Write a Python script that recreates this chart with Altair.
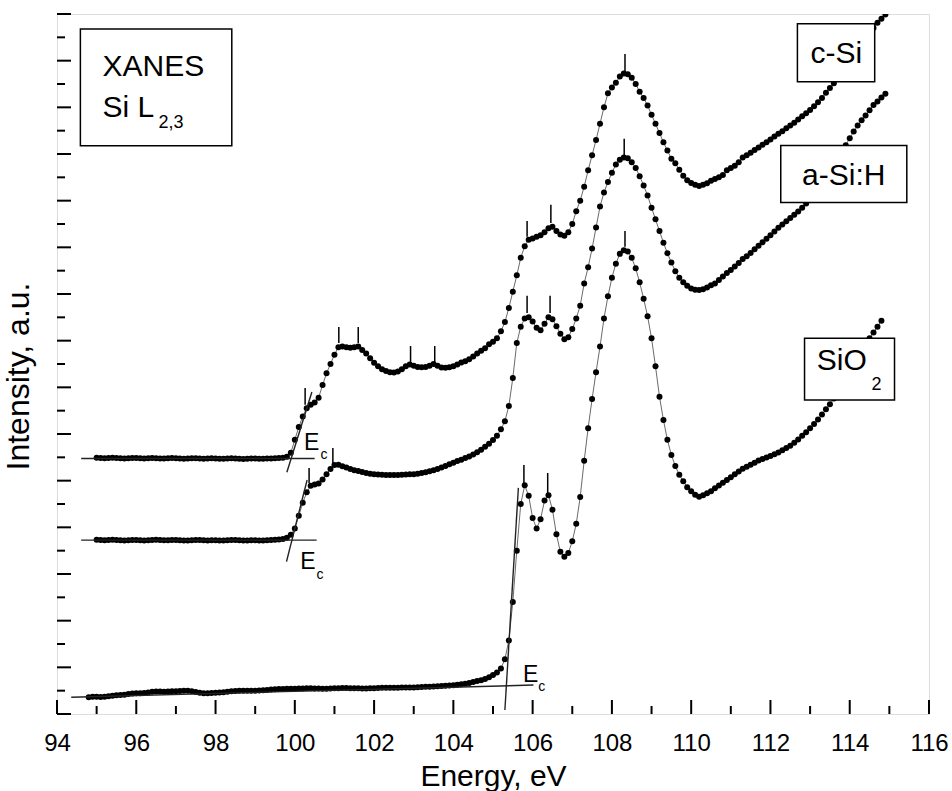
import altair as alt
import pandas as pd

# ---------------- data ----------------
STEP = 0.1  # energy sampling of the spectra, eV

CSI_START = 95.0
CSI = [
    10.98, 10.97, 10.96, 10.97, 10.98, 10.97, 10.96, 10.95, 10.96, 10.97,
    10.97, 10.96, 10.95, 10.96, 10.97, 10.96, 10.95, 10.95, 10.96, 10.97,
    10.96, 10.95, 10.94, 10.95, 10.96, 10.96, 10.95, 10.94, 10.95, 10.96,
    10.95, 10.94, 10.94, 10.95, 10.96, 10.95, 10.94, 10.93, 10.94, 10.95,
    10.95, 10.94, 10.94, 10.95, 10.95, 10.96, 10.97, 10.98, 11.02, 11.20,
    11.75, 12.30, 12.75, 13.10, 13.25, 13.35, 13.55, 14.10, 14.60, 15.00,
    15.40, 15.72, 15.75, 15.72, 15.70, 15.72, 15.75, 15.60, 15.45, 15.25,
    15.05, 14.90, 14.78, 14.70, 14.65, 14.64, 14.68, 14.78, 14.90, 14.98,
    14.92, 14.87, 14.86, 14.87, 14.92, 15.00, 14.92, 14.85, 14.84, 14.86,
    14.90, 14.98, 15.06, 15.12, 15.20, 15.32, 15.45, 15.57, 15.68, 15.85,
    15.95, 16.10, 16.40, 16.80, 17.40, 18.10, 18.80, 19.55, 20.05, 20.33,
    20.38, 20.45, 20.52, 20.65, 20.82, 20.88, 20.70, 20.55, 20.50, 20.65,
    21.00, 21.55, 22.00, 22.60, 23.30, 23.95, 24.60, 25.30, 26.00, 26.60,
    26.85, 27.05, 27.32, 27.45, 27.42, 27.27, 27.00, 26.67, 26.40, 26.08,
    25.68, 25.30, 24.90, 24.50, 24.15, 23.80, 23.60, 23.32, 23.07, 22.88,
    22.76, 22.68, 22.63, 22.68, 22.75, 22.85, 22.93, 23.00, 23.10, 23.30,
    23.40, 23.50, 23.65, 23.85, 23.95, 24.05, 24.17, 24.28, 24.40, 24.50,
    24.62, 24.75, 24.87, 24.98, 25.10, 25.22, 25.34, 25.48, 25.62, 25.75,
    25.89, 26.05, 26.22, 26.40, 26.62, 26.83, 27.03, 27.25, 27.45, 27.70,
    27.95, 28.20, 28.42, 28.65, 28.88, 29.12, 29.40, 29.62, 29.80, 29.98,
]

ASIH_START = 95.0
ASIH = [
    7.47, 7.46, 7.45, 7.46, 7.47, 7.46, 7.45, 7.44, 7.45, 7.46,
    7.46, 7.45, 7.44, 7.45, 7.46, 7.47, 7.46, 7.45, 7.45, 7.46,
    7.46, 7.45, 7.44, 7.44, 7.45, 7.46, 7.46, 7.45, 7.44, 7.45,
    7.45, 7.44, 7.44, 7.45, 7.46, 7.46, 7.45, 7.44, 7.44, 7.45,
    7.45, 7.44, 7.44, 7.45, 7.46, 7.47, 7.48, 7.50, 7.55, 7.68,
    7.95, 8.50, 9.05, 9.50, 9.78, 9.84, 9.88, 10.05, 10.28, 10.50,
    10.67, 10.68, 10.62, 10.56, 10.50, 10.45, 10.41, 10.37, 10.33, 10.30,
    10.28, 10.26, 10.25, 10.24, 10.24, 10.24, 10.24, 10.25, 10.26, 10.27,
    10.28, 10.30, 10.33, 10.36, 10.40, 10.45, 10.50, 10.56, 10.63, 10.70,
    10.77, 10.84, 10.90, 10.97, 11.04, 11.12, 11.22, 11.33, 11.45, 11.58,
    11.74, 11.93, 12.20, 12.55, 13.20, 14.40, 15.90, 16.60, 16.95, 17.00,
    16.82, 16.55, 16.45, 16.72, 17.00, 16.92, 16.62, 16.30, 16.06, 16.15,
    16.50, 16.95, 17.50, 18.45, 19.15, 19.95, 20.85, 21.75, 22.35, 22.80,
    23.20, 23.55, 23.75, 23.85, 23.82, 23.65, 23.40, 23.05, 22.65, 22.22,
    21.70, 21.20, 20.70, 20.20, 19.75, 19.35, 18.98, 18.70, 18.50, 18.35,
    18.24, 18.18, 18.17, 18.20, 18.28, 18.37, 18.45, 18.60, 18.75, 18.90,
    19.03, 19.18, 19.33, 19.50, 19.62, 19.76, 19.92, 20.07, 20.22, 20.37,
    20.52, 20.68, 20.84, 20.98, 21.12, 21.26, 21.40, 21.54, 21.70, 21.88,
    22.08, 22.30, 22.55, 22.80, 23.05, 23.30, 23.60, 23.88, 24.12, 24.38,
    24.68, 24.96, 25.22, 25.45, 25.65, 25.88, 26.10, 26.25, 26.42, 26.58,
]

SIO2_START = 94.8
SIO2 = [
    0.72, 0.74,
    0.74, 0.73, 0.74, 0.76, 0.78, 0.80, 0.81, 0.83, 0.86, 0.88,
    0.89, 0.89, 0.90, 0.92, 0.95, 0.96, 0.96, 0.95, 0.96, 0.97,
    0.98, 0.99, 1.00, 1.00, 0.98, 0.94, 0.91, 0.89, 0.89, 0.90,
    0.91, 0.92, 0.93, 0.95, 0.97, 0.99, 1.00, 1.00, 1.00, 1.00,
    1.00, 1.01, 1.02, 1.03, 1.05, 1.06, 1.07, 1.07, 1.08, 1.08,
    1.08, 1.09, 1.09, 1.10, 1.10, 1.09, 1.09, 1.08, 1.08, 1.09,
    1.10, 1.10, 1.11, 1.11, 1.10, 1.10, 1.10, 1.09, 1.09, 1.10,
    1.10, 1.11, 1.12, 1.12, 1.13, 1.13, 1.13, 1.14, 1.14, 1.14,
    1.14, 1.15, 1.16, 1.17, 1.17, 1.18, 1.19, 1.20, 1.21, 1.22,
    1.23, 1.25, 1.27, 1.30, 1.33, 1.37, 1.41, 1.45, 1.50, 1.57,
    1.67, 1.78, 1.95, 2.35, 3.15, 4.80, 7.00, 9.00, 9.80, 9.35,
    8.40, 7.95, 8.35, 9.15, 9.38, 8.75, 7.70, 6.95, 6.74, 6.90,
    7.40, 8.15, 9.30, 10.85, 12.25, 13.50, 14.65, 15.75, 16.95, 17.90,
    18.70, 19.30, 19.72, 19.88, 19.82, 19.55, 19.10, 18.50, 17.80, 17.05,
    16.10, 14.90, 13.60, 12.60, 11.75, 11.10, 10.63, 10.25, 9.97, 9.72,
    9.55, 9.40, 9.31, 9.38, 9.46, 9.55, 9.67, 9.79, 9.91, 10.03,
    10.15, 10.27, 10.39, 10.51, 10.60, 10.68, 10.77, 10.86, 10.93, 10.99,
    11.06, 11.13, 11.21, 11.30, 11.40, 11.50, 11.62, 11.76, 11.92, 12.08,
    12.25, 12.43, 12.62, 12.84, 13.06, 13.28, 13.52, 13.80, 14.10, 14.40,
    14.65, 14.90, 15.20, 15.50, 15.80, 16.10, 16.35, 16.60, 16.85,
]

# peak markers (short vertical bars): energy, bottom, top
MARK_E = [100.26, 101.11, 101.60, 102.92, 103.53, 105.86, 106.46, 108.33,
          100.36, 100.96, 105.86, 106.44, 108.31,
          105.78, 106.38, 108.33]
MARK_LO = [13.25, 15.90, 15.90, 15.09, 15.09, 20.45, 21.04, 27.52,
           9.90, 10.76, 17.19, 17.19, 23.87,
           9.73, 9.47, 20.02]
MARK_HI = [13.97, 16.59, 16.59, 15.77, 15.77, 21.13, 21.82, 28.29,
           10.54, 11.40, 17.92, 17.92, 24.65,
           10.67, 10.33, 20.70]

# Ec construction lines: baseline fits and edge tangents
SEG_X1 = [94.61, 99.80, 94.61, 99.79, 94.36, 105.30]
SEG_Y1 = [10.95, 10.36, 7.45, 6.53, 0.72, 0.17]
SEG_X2 = [100.50, 100.43, 100.55, 100.31, 106.02, 105.64]
SEG_Y2 = [10.95, 13.80, 7.45, 10.03, 1.24, 9.69]

X_TICKS = list(range(94, 117))
Y_TICKS = list(range(0, 31))
X_LABELS = list(range(94, 117, 2))

# ---------------- layout ----------------
W, H = 872, 700
XMIN, XMAX, YMIN, YMAX = 94, 116, 0, 30
PX_X = W / (XMAX - XMIN)
PX_Y = H / (YMAX - YMIN)
FONT = "Liberation Sans"

xs = alt.Scale(domain=[XMIN, XMAX], nice=False, zero=False)
ys = alt.Scale(domain=[YMIN, YMAX], nice=False, zero=False)
x_axis = alt.Axis(values=X_LABELS, ticks=False, domain=False, grid=False,
                  labelFontSize=24, labelFont=FONT, labelColor="black",
                  labelPadding=17, title="Energy, eV", titleFont=FONT,
                  titleFontSize=30, titleFontWeight="normal", titleColor="black",
                  titlePadding=6, labelFlush=False)
y_axis = alt.Axis(labels=False, ticks=False, domain=False, grid=False,
                  title="Intensity, a.u.", titleFont=FONT, titleFontSize=32,
                  titleFontWeight="normal", titleColor="black", titlePadding=22,
                  titleY=362)


def X(field):
    return alt.X(field, type="quantitative", scale=xs, axis=x_axis)


def Y(field):
    return alt.Y(field, type="quantitative", scale=ys, axis=y_axis)


def spectrum(name, start, values):
    return pd.DataFrame({
        "energy": [round(start + STEP * i, 2) for i in range(len(values))],
        "intensity": values,
        "sample": name,
    })


spec = pd.concat([
    spectrum("c-Si", CSI_START, CSI),
    spectrum("a-Si:H", ASIH_START, ASIH),
    spectrum("SiO2", SIO2_START, SIO2),
], ignore_index=True)

lines = alt.Chart(spec).mark_line(color="#444", strokeWidth=0.8, clip=True).encode(
    x=X("energy"), y=Y("intensity"), detail="sample:N")
dots = alt.Chart(spec).mark_circle(color="black", size=36, opacity=1, clip=True).encode(
    x=X("energy"), y=Y("intensity"))

marks_df = pd.DataFrame({"e": MARK_E, "lo": MARK_LO, "hi": MARK_HI})
peak_marks = alt.Chart(marks_df).mark_rule(color="black", strokeWidth=1.5).encode(
    x=X("e"), y=Y("lo"), y2="hi")

seg_df = pd.DataFrame({"x1": SEG_X1, "y1": SEG_Y1, "x2": SEG_X2, "y2": SEG_Y2})
segments = alt.Chart(seg_df).mark_rule(color="#222", strokeWidth=1.4).encode(
    x=X("x1"), y=Y("y1"), x2="x2", y2="y2")

# inward axis ticks
xt = pd.DataFrame({"t": X_TICKS, "y0": [0] * len(X_TICKS),
                   "y1": [(14 if t % 2 == 0 else 8) / PX_Y for t in X_TICKS]})
yt = pd.DataFrame({"t": Y_TICKS, "x0": [XMIN] * len(Y_TICKS),
                   "x1": [XMIN + (14 if t % 2 == 0 else 8) / PX_X for t in Y_TICKS]})
xticks = alt.Chart(xt).mark_rule(color="black", strokeWidth=2).encode(
    x=X("t"), y=Y("y0"), y2="y1")
yticks = alt.Chart(yt).mark_rule(color="black", strokeWidth=2).encode(
    y=Y("t"), x=X("x0"), x2="x1")

# label boxes
box_df = pd.DataFrame({
    "x1": [94.59, 112.68, 112.26, 112.86],
    "x2": [98.41, 114.63, 115.44, 115.13],
    "y1": [29.36, 29.58, 24.36, 16.10],
    "y2": [24.35, 27.10, 21.92, 13.46],
})
boxes = alt.Chart(box_df).mark_rect(fill="white", stroke="black", strokeWidth=1.5).encode(
    x=X("x1"), x2="x2", y=Y("y1"), y2="y2")


def texts(df, size, align="left"):
    return alt.Chart(df).mark_text(align=align, baseline="alphabetic", fontSize=size,
                                   font=FONT, color="black").encode(
        x=X("x"), y=Y("y"), text="t:N")


big_left = pd.DataFrame({"x": [95.15, 95.15, 113.17], "y": [27.35, 25.59, 14.74],
                         "t": ["XANES", "Si L", "SiO"]})
big_center = pd.DataFrame({"x": [113.66, 113.85], "y": [27.88, 22.67],
                           "t": ["c-Si", "a-Si:H"]})
subs = pd.DataFrame({"x": [96.56, 114.55], "y": [25.12, 13.89], "t": ["2,3", "2"]})
ec_big = pd.DataFrame({"x": [100.23, 100.14, 105.76], "y": [11.32, 6.20, 1.38],
                       "t": ["E", "E", "E"]})
ec_sub = pd.DataFrame({"x": [100.65, 100.55, 106.14], "y": [10.93, 5.77, 1.00],
                       "t": ["c", "c", "c"]})

chart = alt.layer(
    lines, dots, segments, peak_marks, xticks, yticks, boxes,
    texts(big_left, 30), texts(big_center, 30, "center"), texts(subs, 18),
    texts(ec_big, 23), texts(ec_sub, 14),
).properties(
    width=W, height=H,
    autosize=alt.AutoSizeParams(type="none"),
    padding={"left": 57, "top": 14, "right": 23, "bottom": 77},
).configure_view(stroke="black", strokeWidth=2).configure(background="white")

chart.save("out.html", embed_options={"renderer": "svg", "actions": False})
